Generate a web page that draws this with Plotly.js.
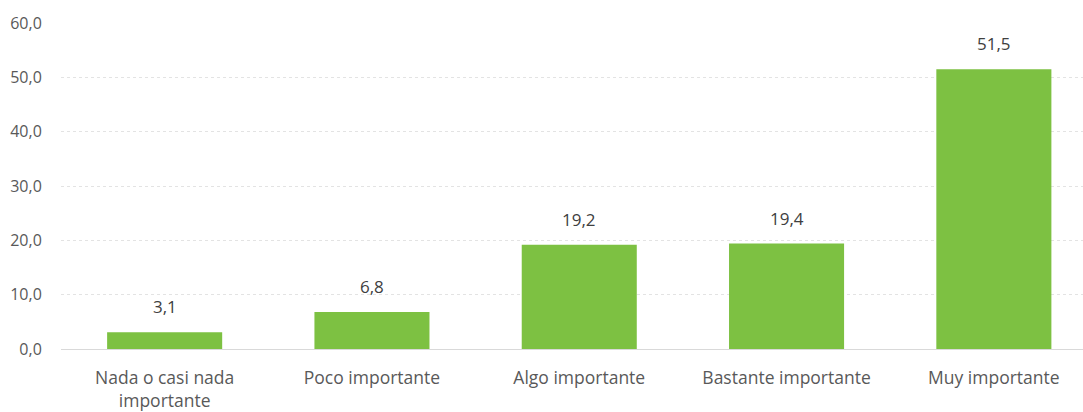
<!DOCTYPE html>
<html><head><meta charset="utf-8">
<script src="https://cdn.plot.ly/plotly-3.0.1.min.js"></script>
<style>html,body{margin:0;padding:0;background:#fff}#c{width:1083px;height:412px}</style>
</head><body><div id="c"></div>
<script>
const categories = ["Nada o casi nada<br>importante", "Poco importante", "Algo importante", "Bastante importante", "Muy importante"];
const values = [3.1, 6.8, 19.2, 19.4, 51.5];
const tickVals = [0, 10, 20, 30, 40, 50, 60];
const tickText = ["0,0", "10,0", "20,0", "30,0", "40,0", "50,0", "60,0"];
const fmt = v => v.toFixed(1).replace('.', ',');
const fontFam = '"Open Sans", sans-serif';
const trace = {
  type: 'bar', x: categories, y: values,
  marker: {color: '#7DC142'}, hoverinfo: 'none'
};
const annotations = categories.map((c, i) => ({
  x: c, y: values[i], xref: 'x', yref: 'y', text: fmt(values[i]),
  showarrow: false, yanchor: 'bottom', yshift: 12,
  font: {family: fontFam, size: 17, color: '#404040'}
}));
const layout = {
  width: 1083, height: 412,
  margin: {l: 61, r: 0, t: 23, b: 63},
  paper_bgcolor: '#fff', plot_bgcolor: '#fff',
  bargap: 0.445, showlegend: false,
  font: {family: fontFam, color: '#595959'},
  xaxis: {
    type: 'category', range: [-0.5, 4.43], showgrid: false, zeroline: false,
    showline: true, linecolor: '#d9d9d9', linewidth: 1,
    ticks: 'outside', ticklen: 13, tickcolor: 'rgba(0,0,0,0)',
    tickfont: {family: fontFam, size: 17.5, color: '#595959'}
  },
  yaxis: {
    range: [0, 60], tickvals: tickVals, ticktext: tickText,
    showgrid: true, gridcolor: '#e3e3e3', griddash: 'dot', gridwidth: 1,
    zeroline: false, showline: false,
    ticks: 'outside', ticklen: 15, tickcolor: 'rgba(0,0,0,0)',
    tickfont: {family: fontFam, size: 16, color: '#595959'}
  },
  annotations: annotations
};
Plotly.newPlot('c', [trace], layout, {displayModeBar: false, staticPlot: true});
</script></body></html>
